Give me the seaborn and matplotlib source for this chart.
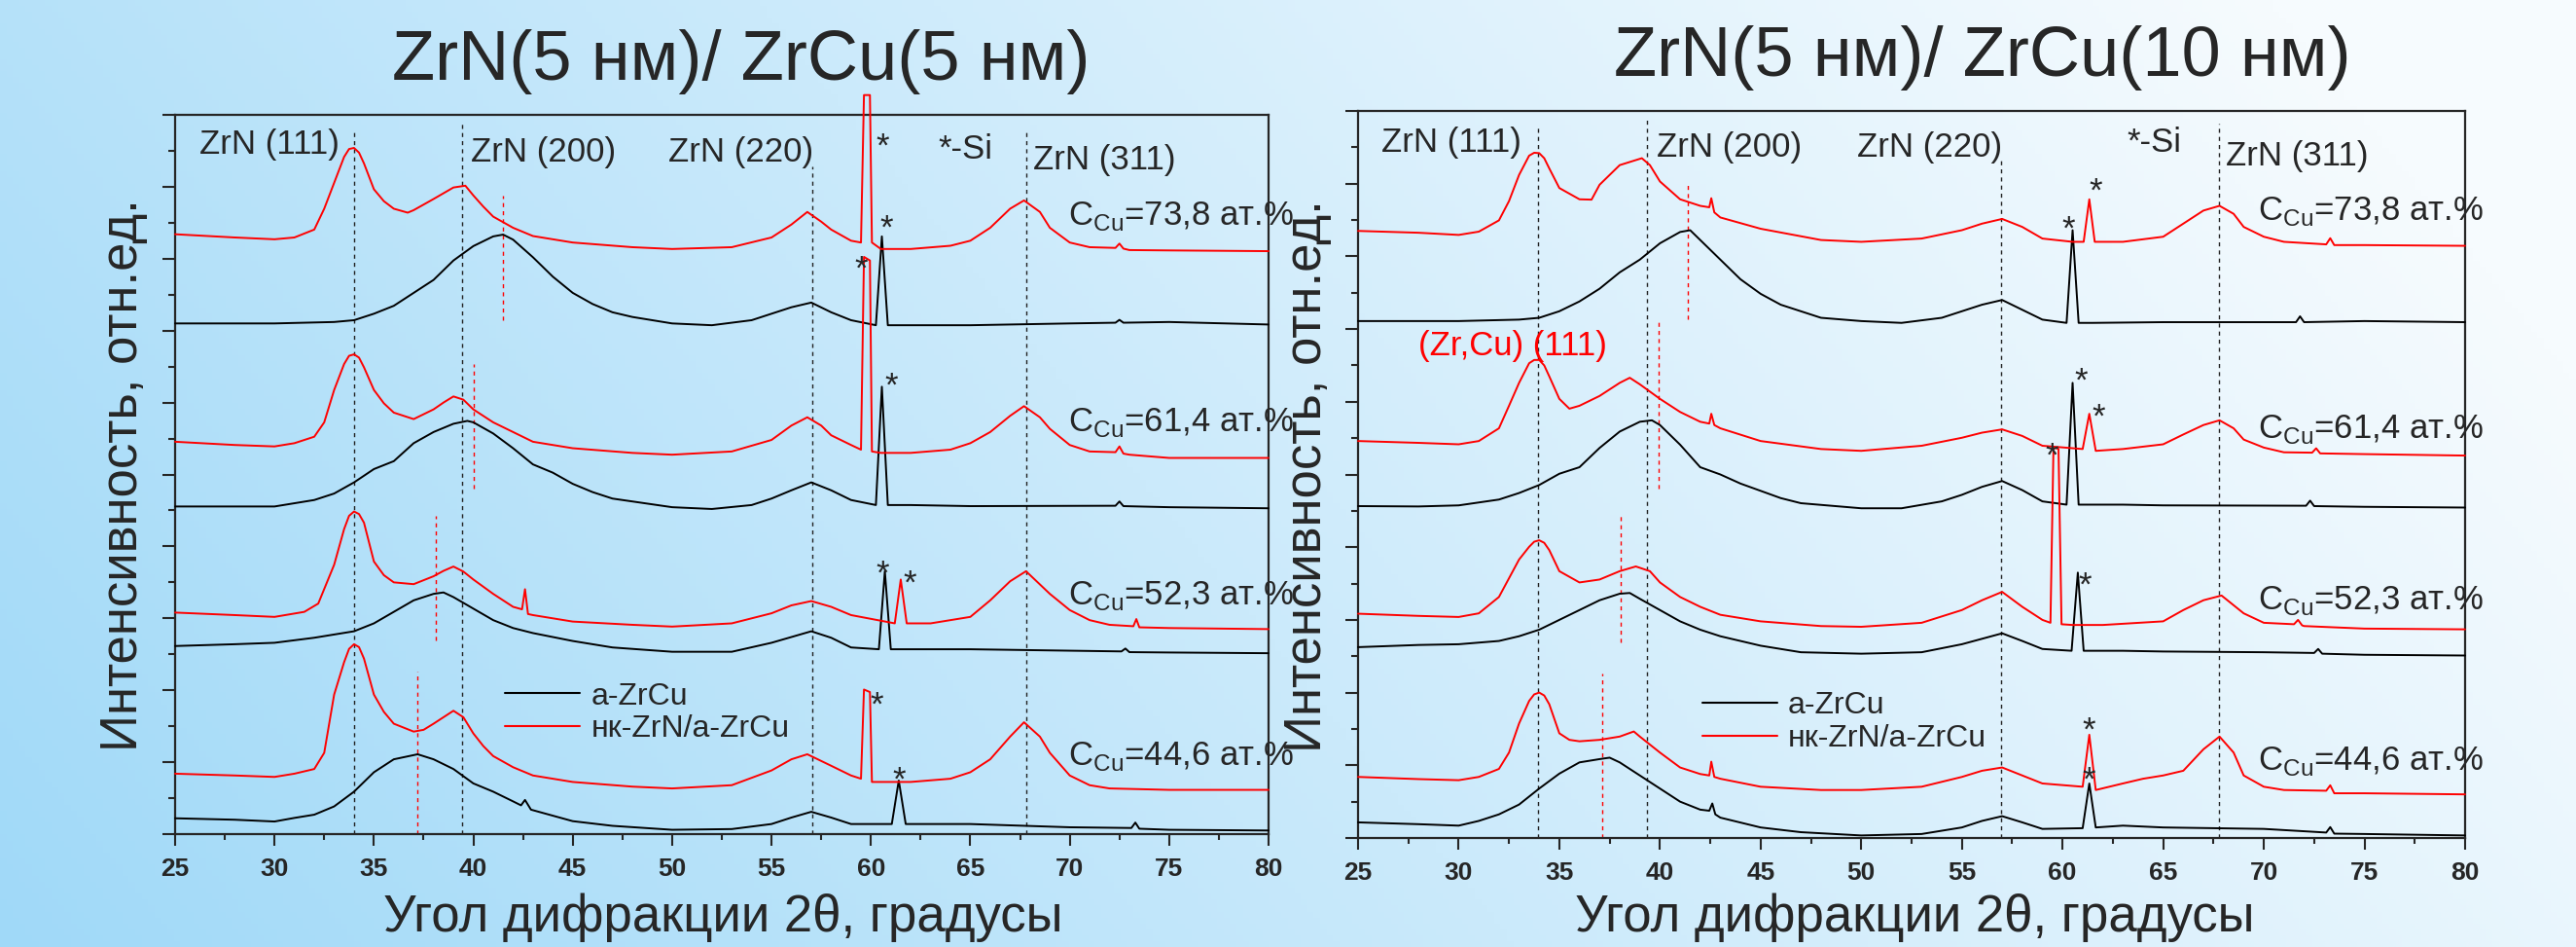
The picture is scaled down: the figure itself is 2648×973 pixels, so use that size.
import numpy as np
import pandas as pd
import matplotlib
matplotlib.use("Agg")
from matplotlib import pyplot as plt
from matplotlib.ticker import MultipleLocator
import seaborn as sns

# ---------------- data ----------------
# left panel: ZrN(5 nm)/ZrCu(5 nm); "a" = a-ZrCu (black), "n" = nc-ZrN/a-ZrCu (red)
L446_a_x = [25, 28, 30, 31, 32, 33, 34, 35, 36, 37.2, 38, 39, 40, 41, 42, 42.4, 42.6, 42.9, 45, 47, 50, 53, 55, 56, 57, 58, 59,
            61.05, 61.4, 61.75, 65, 70, 73.1, 73.3, 73.5, 75, 80]
L446_a_y = [0.44, 0.40, 0.35, 0.45, 0.54, 0.77, 1.18, 1.72, 2.08, 2.22, 2.08, 1.81, 1.41, 1.18, 0.91, 0.80, 0.95, 0.68, 0.36, 0.23,
            0.12, 0.14, 0.28, 0.46, 0.62, 0.46, 0.28, 0.28, 1.49, 0.28, 0.28, 0.19, 0.17, 0.32, 0.15, 0.12, 0.10]
L446_n_x = [25, 28, 30, 31, 32, 32.5, 33, 33.5, 33.75, 34, 34.25, 34.5, 35, 35.5, 36, 37, 37.5, 38, 38.5, 39, 39.5, 40, 40.5, 41,
            42, 43, 45, 48, 50, 53, 55, 56, 56.8, 58, 59, 59.5, 59.65, 59.95, 60.05, 60.5, 62, 64, 65, 66, 67, 67.7, 68.5, 69,
            70, 71, 72, 75, 80]
L446_n_y = [1.68, 1.63, 1.59, 1.68, 1.81, 2.26, 3.88, 4.78, 5.15, 5.28, 5.2, 4.88, 3.88, 3.4, 3.07, 2.85, 2.9, 3.07, 3.25, 3.43,
            3.25, 2.80, 2.45, 2.17, 1.86, 1.63, 1.45, 1.32, 1.27, 1.36, 1.77, 2.08, 2.22, 1.90, 1.63, 1.54, 4.02, 3.95, 1.45,
            1.45, 1.45, 1.54, 1.72, 2.08, 2.71, 3.11, 2.71, 2.26, 1.63, 1.36, 1.27, 1.23, 1.23]
L523_a_x = [25, 28, 30, 32, 34, 35, 36, 37, 38, 38.5, 39, 40, 41, 42, 43, 45, 47, 50, 53, 55, 57, 58, 59, 60.4, 60.7, 61.0, 62,
            65, 70, 72.6, 72.8, 73.0, 75, 80]
L523_a_y = [5.23, 5.28, 5.32, 5.46, 5.64, 5.86, 6.18, 6.50, 6.68, 6.72, 6.59, 6.27, 5.95, 5.73, 5.59, 5.37, 5.19, 5.07, 5.07, 5.32,
            5.64, 5.46, 5.19, 5.14, 7.31, 5.14, 5.14, 5.14, 5.10, 5.08, 5.16, 5.06, 5.05, 5.03]
L523_n_x = [25, 28, 30, 31.5, 32.2, 33, 33.5, 33.75, 34, 34.25, 34.5, 35, 35.5, 36, 37, 38, 38.5, 39, 39.5, 40, 40.5, 41, 42,
            42.45, 42.6, 42.75, 43, 45, 48, 50, 53, 55, 56, 57, 58, 59, 61.2, 61.5, 61.8, 63, 65, 66, 67, 67.8, 69, 70, 71, 72,
            73.2, 73.35, 73.5, 75, 80]
L523_n_y = [6.16, 6.09, 6.04, 6.18, 6.41, 7.49, 8.48, 8.85, 8.97, 8.9, 8.66, 7.58, 7.2, 7.00, 6.95, 7.17, 7.32, 7.44, 7.3, 7.08,
            6.88, 6.68, 6.32, 6.25, 6.81, 6.12, 6.09, 5.91, 5.82, 5.77, 5.86, 6.14, 6.36, 6.48, 6.32, 6.09, 5.86, 7.08, 5.86,
            5.86, 6.04, 6.50, 7.03, 7.31, 6.68, 6.23, 5.95, 5.82, 5.78, 5.98, 5.75, 5.73, 5.70]
L614_a_x = [25, 30, 32, 33, 34, 35, 36, 37, 38, 39, 39.7, 40, 41, 42, 43, 44, 45, 46, 47, 50, 52, 54, 55, 56, 57, 58, 59, 60.25,
            60.55, 60.85, 62, 65, 72.3, 72.5, 72.7, 75, 80]
L614_a_y = [9.11, 9.11, 9.29, 9.47, 9.78, 10.15, 10.37, 10.87, 11.18, 11.41, 11.49, 11.45, 11.14, 10.73, 10.28, 10.05, 9.74, 9.51,
            9.33, 9.09, 9.04, 9.15, 9.33, 9.56, 9.78, 9.56, 9.29, 9.15, 12.44, 9.15, 9.15, 9.12, 9.13, 9.25, 9.12, 9.09, 9.06]
L614_n_x = [25, 28, 30, 31, 32, 32.5, 33, 33.5, 33.75, 34, 34.25, 34.5, 35, 35.5, 36, 37, 38, 38.5, 39, 39.5, 40, 40.5, 41, 42,
            43, 45, 48, 50, 53, 55, 56, 56.8, 57.5, 58, 59, 59.5, 59.65, 59.95, 60.05, 60.5, 62, 64, 65, 66, 67, 67.7, 68.5, 69,
            70, 71, 72.3, 72.5, 72.7, 73, 75, 80]
L614_n_y = [10.91, 10.82, 10.78, 10.87, 11.05, 11.45, 12.35, 13.07, 13.3, 13.34, 13.25, 12.98, 12.35, 11.98, 11.72, 11.54, 11.81,
            12.0, 12.17, 12.08, 11.81, 11.63, 11.45, 11.18, 10.91, 10.73, 10.60, 10.55, 10.64, 10.96, 11.36, 11.59, 11.36, 11.09,
            10.82, 10.69, 16.05, 15.95, 10.64, 10.60, 10.60, 10.69, 10.87, 11.18, 11.63, 11.90, 11.59, 11.27, 10.82, 10.64,
            10.62, 10.78, 10.58, 10.55, 10.46, 10.46]
L738_a_x = [25, 30, 33, 34, 35, 36, 37, 38, 39, 40, 41, 41.5, 42, 43, 44, 45, 46, 47, 48, 50, 52, 54, 55, 56, 57, 58, 59, 60.25,
            60.55, 60.85, 62, 65, 70, 72.3, 72.5, 72.7, 75, 80]
L738_a_y = [14.20, 14.20, 14.24, 14.29, 14.47, 14.69, 15.05, 15.41, 15.95, 16.35, 16.62, 16.67, 16.53, 16.04, 15.50, 15.05, 14.74,
            14.51, 14.38, 14.20, 14.15, 14.29, 14.47, 14.65, 14.78, 14.51, 14.29, 14.15, 16.62, 14.15, 14.15, 14.15, 14.20, 14.22,
            14.30, 14.22, 14.24, 14.17]
L738_n_x = [25, 28, 30, 31, 32, 32.5, 33, 33.5, 33.75, 34, 34.25, 34.5, 35, 35.5, 36, 36.7, 37, 38, 39, 39.6, 40, 40.5, 41, 42,
            43, 45, 48, 50, 53, 55, 56, 56.8, 57.5, 58, 59, 59.5, 59.65, 59.95, 60.05, 60.5, 62, 64, 65, 66, 67, 67.7, 68.5, 69,
            70, 71, 72.3, 72.5, 72.7, 73, 75, 80]
L738_n_y = [16.68, 16.59, 16.54, 16.59, 16.81, 17.39, 18.11, 18.83, 19.05, 19.08, 18.95, 18.65, 17.93, 17.6, 17.39, 17.28, 17.35,
            17.66, 17.98, 18.03, 17.76, 17.45, 17.17, 16.86, 16.63, 16.45, 16.32, 16.27, 16.32, 16.59, 16.95, 17.30, 17.03, 16.81,
            16.50, 16.45, 20.55, 20.55, 16.45, 16.27, 16.27, 16.36, 16.50, 16.86, 17.39, 17.62, 17.30, 16.86, 16.45, 16.32,
            16.30, 16.42, 16.28, 16.24, 16.23, 16.21]

# right panel: ZrN(5 nm)/ZrCu(10 nm)
R446_a_x = [25, 28, 30, 31, 32, 33, 34, 35, 36, 37, 37.5, 38, 39, 40, 41, 42, 42.45, 42.6, 42.75, 43, 45, 47, 50, 53, 55, 56, 57,
            58, 59, 61.0, 61.33, 61.65, 63, 65, 70, 73.1, 73.3, 73.5, 75, 80]
R446_a_y = [0.43, 0.38, 0.34, 0.47, 0.65, 0.92, 1.36, 1.77, 2.08, 2.17, 2.21, 2.08, 1.72, 1.36, 1.00, 0.78, 0.75, 0.95, 0.65, 0.56,
            0.29, 0.16, 0.07, 0.11, 0.29, 0.47, 0.60, 0.43, 0.25, 0.27, 1.50, 0.29, 0.34, 0.29, 0.25, 0.15, 0.30, 0.12, 0.11, 0.07]
R446_n_x = [25, 28, 30, 31, 32, 32.5, 33, 33.5, 33.75, 34, 34.25, 34.5, 35, 35.5, 36, 37, 38, 38.7, 39, 40, 41, 42, 42.45, 42.55,
            42.7, 43, 45, 48, 50, 53, 55, 56, 57, 58, 59, 61.0, 61.33, 61.65, 63, 64, 65, 66, 67, 67.8, 68.5, 69, 70, 71, 73.1,
            73.3, 73.5, 75, 80]
R446_n_y = [1.68, 1.62, 1.59, 1.68, 1.90, 2.35, 3.15, 3.77, 3.95, 4.00, 3.92, 3.68, 2.88, 2.70, 2.66, 2.70, 2.79, 2.93, 2.79, 2.35,
            1.94, 1.76, 1.72, 2.10, 1.68, 1.63, 1.41, 1.32, 1.32, 1.41, 1.68, 1.85, 1.94, 1.72, 1.50, 1.41, 2.84, 1.32, 1.50,
            1.63, 1.72, 1.85, 2.44, 2.79, 2.35, 1.72, 1.41, 1.32, 1.30, 1.45, 1.23, 1.23, 1.20]
R523_a_x = [25, 28, 30, 32, 33, 34, 35, 36, 37, 38, 38.5, 39, 40, 41, 42, 43, 45, 47, 50, 53, 55, 57, 58, 59, 60.45, 60.76, 61.05,
            63, 65, 70, 72.5, 72.7, 72.9, 75, 80]
R523_a_y = [5.25, 5.31, 5.33, 5.42, 5.55, 5.73, 6.00, 6.27, 6.54, 6.72, 6.74, 6.58, 6.27, 5.96, 5.73, 5.55, 5.29, 5.11, 5.07, 5.11,
            5.33, 5.63, 5.42, 5.20, 5.15, 7.30, 5.15, 5.15, 5.13, 5.11, 5.09, 5.20, 5.07, 5.04, 5.02]
R523_n_x = [25, 28, 30, 31, 32, 33, 33.5, 33.75, 34, 34.25, 34.5, 35, 36, 37, 38, 38.8, 39.5, 40, 41, 42, 43, 45, 48, 50, 53, 55,
            56, 57, 58, 59, 59.4, 59.55, 59.8, 59.95, 60.5, 62, 65, 66, 67, 67.9, 69, 70, 71.5, 71.7, 71.9, 72, 75, 80]
R523_n_y = [6.17, 6.11, 6.08, 6.18, 6.63, 7.66, 8.01, 8.15, 8.19, 8.12, 7.92, 7.34, 7.03, 7.11, 7.34, 7.47, 7.34, 7.03, 6.63, 6.36,
            6.14, 5.96, 5.83, 5.81, 5.92, 6.27, 6.54, 6.77, 6.36, 6.00, 5.92, 10.75, 10.70, 5.88, 5.86, 5.86, 5.96, 6.27, 6.54,
            6.67, 6.18, 5.92, 5.88, 6.00, 5.85, 5.83, 5.76, 5.74]
R614_a_x = [25, 28, 30, 32, 33, 34, 35, 36, 37, 38, 39, 39.6, 40, 41, 42, 43, 44, 45, 46, 47, 50, 52, 54, 55, 56, 57, 58, 59, 60.2,
            60.5, 60.8, 63, 65, 72.1, 72.3, 72.5, 75, 80]
R614_a_y = [9.13, 9.12, 9.15, 9.31, 9.49, 9.71, 10.02, 10.20, 10.73, 11.18, 11.45, 11.49, 11.36, 10.82, 10.20, 10.00, 9.75, 9.55,
            9.35, 9.21, 9.07, 9.07, 9.26, 9.44, 9.66, 9.82, 9.57, 9.26, 9.17, 12.52, 9.17, 9.17, 9.15, 9.14, 9.28, 9.13, 9.11, 9.09]
R614_n_x = [25, 28, 30, 31, 32, 32.5, 33, 33.5, 33.75, 34, 34.25, 34.5, 35, 35.5, 36, 37, 38, 38.5, 39, 40, 41, 42, 42.45, 42.55,
            42.7, 43, 45, 48, 50, 53, 55, 56, 57, 58, 59, 61.0, 61.33, 61.65, 63, 65, 66, 67, 67.8, 68.5, 69, 70, 71, 72.4, 72.6,
            72.8, 75, 80]
R614_n_y = [10.92, 10.87, 10.83, 10.92, 11.27, 11.89, 12.52, 13.06, 13.15, 13.15, 13.0, 12.70, 12.08, 11.81, 11.89, 12.16, 12.52,
            12.66, 12.48, 12.08, 11.72, 11.45, 11.40, 11.67, 11.36, 11.27, 10.92, 10.70, 10.65, 10.79, 11.01, 11.15, 11.24, 11.06,
            10.79, 10.70, 11.67, 10.65, 10.70, 10.83, 11.10, 11.36, 11.49, 11.27, 10.96, 10.74, 10.61, 10.60, 10.72, 10.58,
            10.56, 10.52]
R738_a_x = [25, 30, 33, 34, 35, 36, 37, 38, 39, 40, 41, 41.5, 42, 43, 44, 45, 46, 47, 48, 50, 52, 54, 55, 56, 57, 58, 59, 60.2,
            60.5, 60.8, 61.5, 65, 71.6, 71.8, 72.0, 75, 80]
R738_a_y = [14.22, 14.22, 14.26, 14.31, 14.49, 14.76, 15.11, 15.56, 15.91, 16.36, 16.67, 16.72, 16.45, 15.91, 15.37, 14.97, 14.67,
            14.49, 14.31, 14.22, 14.17, 14.31, 14.49, 14.67, 14.80, 14.53, 14.26, 14.17, 16.72, 14.17, 14.17, 14.19, 14.19, 14.35,
            14.19, 14.22, 14.19]
R738_n_x = [25, 28, 30, 31, 32, 32.5, 33, 33.5, 33.75, 34, 34.25, 34.5, 35, 36, 36.6, 37, 38, 39.1, 39.5, 40, 41, 42, 42.45,
            42.55, 42.7, 43, 45, 48, 50, 53, 55, 56, 57, 58, 59, 60.5, 61.05, 61.33, 61.6, 63, 65, 66, 67, 67.8, 68.5, 69, 70, 71,
            73.1, 73.3, 73.5, 75, 80]
R738_n_y = [16.70, 16.65, 16.59, 16.68, 16.99, 17.52, 18.24, 18.77, 18.85, 18.84, 18.7, 18.42, 17.88, 17.57, 17.56, 17.97, 18.51,
            18.70, 18.51, 18.06, 17.57, 17.39, 17.35, 17.60, 17.21, 17.07, 16.76, 16.45, 16.40, 16.49, 16.72, 16.90, 17.03, 16.81,
            16.49, 16.40, 16.40, 17.57, 16.40, 16.40, 16.54, 16.90, 17.26, 17.39, 17.17, 16.81, 16.54, 16.40, 16.33, 16.50,
            16.31, 16.31, 16.29]

film_labels = ["a-ZrCu", "нк-ZrN/a-ZrCu"]
conc_labels = ["44,6", "52,3", "61,4", "73,8"]
titles = ["ZrN(5 нм)/ ZrCu(5 нм)", "ZrN(5 нм)/ ZrCu(10 нм)"]
x_label = "Угол дифракции 2θ, градусы"
y_label = "Интенсивность, отн.ед."
x_ticks = [25, 30, 35, 40, 45, 50, 55, 60, 65, 70, 75, 80]

# reference lines (black dashed ZrN positions, red dashed short markers)
L_ref_x = [34.0, 39.43, 57.07, 67.84]
L_ref_top = [19.6, 19.8, 18.57, 19.6]
L_red_x = [37.17, 38.13, 40.0, 41.49]
L_red_lo = [0.0, 5.38, 9.6, 14.3]
L_red_hi = [4.51, 8.84, 13.08, 17.76]
R_ref_x = [33.93, 39.37, 56.93, 67.77]
R_ref_top = [19.6, 19.8, 18.7, 19.65]
R_red_x = [37.12, 38.06, 39.95, 41.4]
R_red_lo = [0.0, 5.38, 9.6, 14.27]
R_red_hi = [4.52, 8.86, 14.2, 18.0]

# peak labels: (text, angle, intensity baseline)
L_notes = [("ZrN (111)", 26.23, 18.92), ("ZrN (200)", 39.87, 18.7), ("ZrN (220)", 49.83, 18.7),
           ("*-Si", 63.37, 18.78), ("ZrN (311)", 68.18, 18.49)]
R_notes = [("ZrN (111)", 26.16, 18.88), ("ZrN (200)", 39.85, 18.74), ("ZrN (220)", 49.77, 18.74),
           ("*-Si", 63.22, 18.88), ("ZrN (311)", 68.1, 18.5)]
L_star_x = [60.57, 60.77, 59.5, 61.0, 60.6, 61.95, 60.3, 61.4]
L_star_y = [18.84, 16.57, 15.43, 12.19, 6.97, 6.70, 3.32, 1.24]
R_star_x = [61.62, 60.27, 60.9, 61.8, 59.45, 61.1, 61.3, 61.3]
R_star_y = [17.51, 16.47, 12.29, 11.3, 10.23, 6.69, 2.68, 1.31]
L_conc_y = [1.92, 6.38, 11.2, 16.93]
R_conc_y = [1.87, 6.29, 11.0, 17.0]
conc_x = [69.9, 69.7]

left_curves = [
    ("446a", 0, L446_a_x, L446_a_y), ("446n", 1, L446_n_x, L446_n_y),
    ("523a", 0, L523_a_x, L523_a_y), ("523n", 1, L523_n_x, L523_n_y),
    ("614a", 0, L614_a_x, L614_a_y), ("614n", 1, L614_n_x, L614_n_y),
    ("738a", 0, L738_a_x, L738_a_y), ("738n", 1, L738_n_x, L738_n_y),
]
right_curves = [
    ("446a", 0, R446_a_x, R446_a_y), ("446n", 1, R446_n_x, R446_n_y),
    ("523a", 0, R523_a_x, R523_a_y), ("523n", 1, R523_n_x, R523_n_y),
    ("614a", 0, R614_a_x, R614_a_y), ("614n", 1, R614_n_x, R614_n_y),
    ("738a", 0, R738_a_x, R738_a_y), ("738n", 1, R738_n_x, R738_n_y),
]

# ---------------- style ----------------
sns.set_style("ticks")
plt.rcParams["font.family"] = ["Liberation Sans", "DejaVu Sans"]
plt.rcParams["mathtext.fontset"] = "custom"
plt.rcParams["mathtext.rm"] = "Liberation Sans"
plt.rcParams["axes.linewidth"] = 1.5

W, H = 2648, 973
fig = plt.figure(figsize=(W / 100, H / 100), dpi=100)

# light blue diagonal background
bg = fig.add_axes([0, 0, 1, 1], zorder=-10)
gu, gv = np.meshgrid(np.linspace(0, 1, 400), np.linspace(0, 1, 160))
t = np.clip(0.85 * gu + 0.25 * (1 - gv), 0, 1)[..., None]
c0 = np.array([160, 217, 248]) / 255
c1 = np.array([246, 251, 254]) / 255
bg.imshow(c0 * (1 - t) + c1 * t, aspect="auto", extent=[0, 1, 0, 1])
bg.axis("off")

ax_l = fig.add_axes([180 / W, 1 - 857 / H, 1124 / W, 739 / H])
ax_r = fig.add_axes([1396 / W, 1 - 861 / H, 1138 / W, 747 / H])


def panel(ax, curves, ref_x, ref_top, red_x, red_lo, red_hi, notes, star_x, star_y, conc_y, cx, leg_anchor):
    ax.set_facecolor("none")
    frames = []
    for name, kind, xs, ys in curves:
        frames.append(pd.DataFrame({"angle": xs, "intensity": ys, "curve": name, "film": film_labels[kind]}))
    df = pd.concat(frames, ignore_index=True)

    ax.vlines(ref_x, 0, ref_top, colors="#222222", linestyles=(0, (3, 3)), linewidth=1.0, zorder=1)
    ax.vlines(red_x, red_lo, red_hi, colors="red", linestyles=(0, (3, 3)), linewidth=1.0, zorder=1)

    sns.lineplot(data=df, x="angle", y="intensity", hue="film", hue_order=film_labels, units="curve",
                 estimator=None, palette={film_labels[0]: "black", film_labels[1]: "red"},
                 linewidth=1.4, ax=ax, zorder=3)
    for ln in ax.lines:
        ln.set_clip_on(False)

    ax.set_xlim(25, 80)
    ax.set_ylim(0, 20)
    ax.set_xticks(x_ticks)
    ax.set_xticklabels([str(v) for v in x_ticks], fontweight="bold", fontsize=19)
    ax.xaxis.set_minor_locator(MultipleLocator(2.5))
    ax.yaxis.set_major_locator(MultipleLocator(2))
    ax.yaxis.set_minor_locator(MultipleLocator(1))
    ax.set_yticklabels([])
    ax.tick_params(axis="x", which="major", direction="out", length=8.5, width=1.5, pad=9)
    ax.tick_params(axis="x", which="minor", direction="out", length=4, width=1.5)
    ax.tick_params(axis="y", which="major", direction="out", length=9.5, width=1.5)
    ax.tick_params(axis="y", which="minor", direction="out", length=5, width=1.5)
    for sp in ax.spines.values():
        sp.set_visible(True)
        sp.set_linewidth(1.6)
    ax.set_xlabel("")
    ax.set_ylabel("")

    for txt, nx, ny in notes:
        ax.text(nx, ny, txt, fontsize=25, ha="left", va="baseline")
    for sx, sy in zip(star_x, star_y):
        ax.text(sx, sy, "*", fontsize=25, ha="center", va="baseline")
    for cl, cy in zip(conc_labels, conc_y):
        ax.text(cx, cy, r"C$_{\mathregular{Cu}}$=" + cl + " ат.%", fontsize=25, ha="left", va="baseline")

    handles, labels = ax.get_legend_handles_labels()
    leg = ax.legend(handles, labels, loc="center left", bbox_to_anchor=leg_anchor, frameon=False,
                    fontsize=23, handlelength=2.4, handletextpad=0.35, labelspacing=0.12,
                    borderpad=0, borderaxespad=0)
    for h in leg.legend_handles:
        h.set_linewidth(1.5)


panel(ax_l, left_curves, L_ref_x, L_ref_top, L_red_x, L_red_lo, L_red_hi, L_notes, L_star_x, L_star_y,
      L_conc_y, conc_x[0], (0.302, 0.1685))
panel(ax_r, right_curves, R_ref_x, R_ref_top, R_red_x, R_red_lo, R_red_hi, R_notes, R_star_x, R_star_y,
      R_conc_y, conc_x[1], (0.311, 0.1593))
ax_r.text(28.0, 13.28, "(Zr,Cu) (111)", fontsize=25, color="red", ha="left", va="baseline")

# titles and axis labels
fig.text(762 / W, 1 - 82 / H, titles[0], fontsize=52, ha="center", va="baseline")
fig.text(2038 / W, 1 - 78 / H, titles[1], fontsize=52, ha="center", va="baseline")
fig.text(743 / W, 1 - 957 / H, x_label, fontsize=38, ha="center", va="baseline")
fig.text(1968 / W, 1 - 957 / H, x_label, fontsize=38, ha="center", va="baseline")
fig.text(127 / W, 1 - 488 / H, y_label, fontsize=38, rotation=90, ha="center", va="center")
fig.text(1344 / W, 1 - 489 / H, y_label, fontsize=38, rotation=90, ha="center", va="center")

fig.savefig("out.png", dpi=100)
